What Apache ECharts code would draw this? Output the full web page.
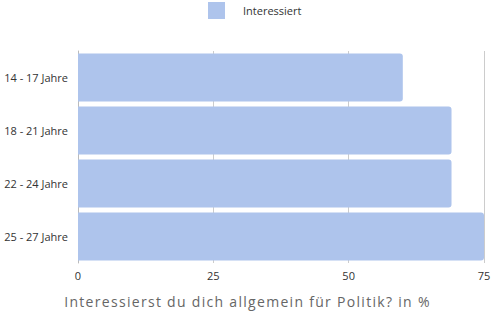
<!DOCTYPE html>
<html><head><meta charset="utf-8">
<script src="https://cdn.jsdelivr.net/npm/echarts@6/dist/echarts.min.js"></script>
<style>html,body{margin:0;padding:0;background:#fff}#c{width:495px;height:315px}</style>
</head><body><div id="c"></div>
<script>
var categories = ['14 - 17 Jahre', '18 - 21 Jahre', '22 - 24 Jahre', '25 - 27 Jahre'];
var interessiert = [60, 69, 69, 75];
var xTicks = [0, 25, 50, 75];
var seriesName = 'Interessiert';
var axisTitle = 'Interessierst du dich allgemein für Politik? in %';

var chart = echarts.init(document.getElementById('c'), null, {renderer: 'svg'});
chart.setOption({
  animation: false,
  textStyle: {fontFamily: 'Open Sans'},
  legend: {
    left: 208, top: 2, padding: 0, itemWidth: 17, itemHeight: 17, icon: 'rect',
    data: [seriesName],
    textStyle: {fontSize: 11, color: '#333', padding: [0, 0, 0, 13], fontFamily: 'Open Sans'}
  },
  grid: {left: 78, right: 11, top: 51, bottom: 52, containLabel: false},
  xAxis: {
    type: 'value', min: 0, max: 75, interval: 25,
    axisLine: {show: false}, axisTick: {show: false},
    splitLine: {show: true, lineStyle: {color: '#cccccc', width: 1}},
    axisLabel: {fontSize: 11, color: '#333', margin: 7,
      formatter: function (v) { return xTicks.indexOf(v) >= 0 ? String(v) : ''; }}
  },
  yAxis: {
    type: 'category', data: categories, inverse: true,
    axisLine: {show: true, lineStyle: {color: '#bbbbbb'}},
    axisTick: {show: false},
    axisLabel: {fontSize: 11, color: '#333', margin: 10}
  },
  title: {
    text: axisTitle, left: 'center', top: 294, padding: 0,
    textStyle: {fontSize: 14, fontWeight: 'normal', color: '#666', fontFamily: 'Open Sans'}
  },
  series: [{
    name: seriesName, type: 'bar', data: interessiert,
    barCategoryGap: '9.4%',
    itemStyle: {color: '#aec4ec', borderRadius: [0, 3, 3, 0]}
  }]
});
var texts = document.querySelectorAll('#c text');
for (var i = 0; i < texts.length; i++) {
  if (texts[i].textContent === axisTitle) {
    texts[i].style.letterSpacing = '1.3px';
  }
}
</script></body></html>
